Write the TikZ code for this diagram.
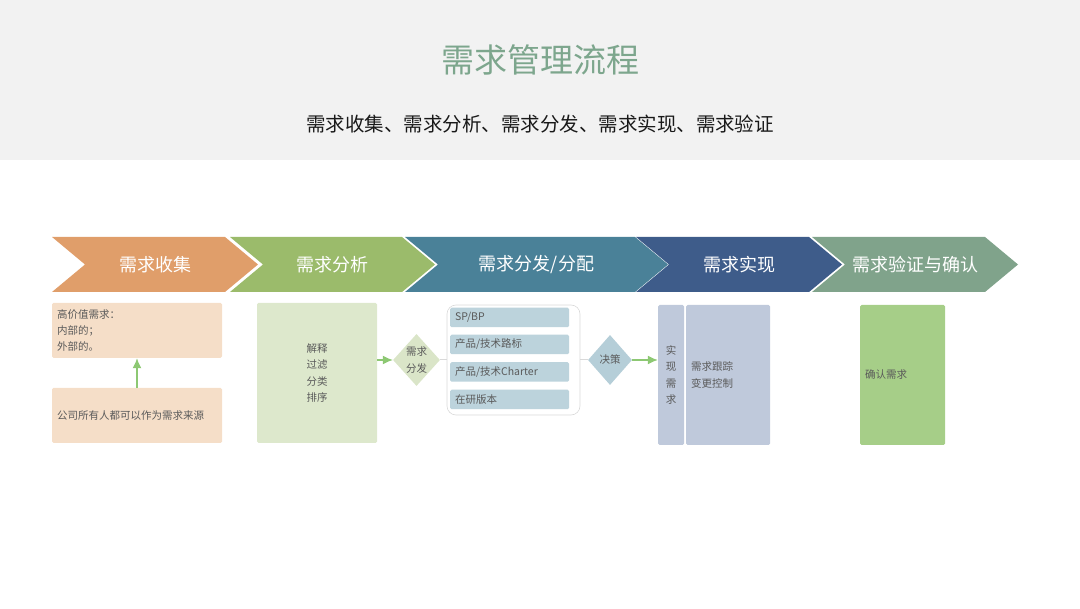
\documentclass[tikz,border=0pt]{standalone}
\usepackage{fontspec}
\setmainfont{Noto Sans CJK SC}
\usepackage{xcolor}
\usepackage{tikz}
\usetikzlibrary{arrows.meta,positioning,shapes.geometric}
\definecolor{headGray}{HTML}{F2F2F2}
\definecolor{titleGreen}{HTML}{7DA68D}
\definecolor{chevOrange}{HTML}{E09E6A}
\definecolor{chevGreen}{HTML}{9BBB6B}
\definecolor{chevTeal}{HTML}{4A8198}
\definecolor{chevBlue}{HTML}{3E5C8A}
\definecolor{chevSage}{HTML}{80A38B}
\definecolor{peach}{HTML}{F5DEC8}
\definecolor{paleGreen}{HTML}{DDE8CC}
\definecolor{paleGreenDia}{HTML}{DAE5C8}
\definecolor{listBlue}{HTML}{BCD3DC}
\definecolor{diaBlue}{HTML}{B5CED8}
\definecolor{slateBox}{HTML}{BFC9DB}
\definecolor{leafGreen}{HTML}{A6CE88}
\definecolor{arrowGreen}{HTML}{8DC873}
\definecolor{boxText}{HTML}{5A5A5A}

\begin{document}
\begin{tikzpicture}[
  x=1pt,
  y=-1pt,
  font=\fontsize{10.5}{16.3}\selectfont,
  title/.style={text=titleGreen,font=\fontsize{33}{36}\selectfont},
  subtitle/.style={text=black!90,font=\fontsize{19.5}{22}\selectfont},
  chevlabel/.style={text=white,font=\fontsize{18}{20}\selectfont},
  box/.style={
    rectangle,
    rounded corners=1.5pt,
    inner xsep=5pt,
    inner ysep=0pt,
    text=boxText,
    align=left
  },
  peachbox/.style={box,fill=peach,text width=160pt,minimum height=55pt},
  listbox/.style={box,fill=listBlue,text width=109pt,minimum height=19.5pt,inner xsep=5pt},
  slatebox/.style={box,fill=slateBox,minimum height=140pt},
  decision/.style={
    diamond,
    inner sep=0pt,
    minimum width=44pt,
    minimum height=52pt,
    text=boxText,
    align=center
  },
  groupbox/.style={
    rectangle,
    draw=black!15,
    line width=0.6pt,
    fill=white,
    rounded corners=9pt,
    minimum width=133pt,
    minimum height=110pt
  },
  garrow/.style={-{Latex[length=10pt,width=9pt]},draw=arrowGreen,line width=1.4pt},
  link/.style={draw=black!15,line width=1pt}
]
\useasboundingbox (0,0) rectangle (1080,609);

% Header band.
\fill[headGray] (0,0) rectangle (1080,160);
\node[title] (head) at (540,60) {需求管理流程};
\node[subtitle] (sub) at (540,124) {需求收集、需求分析、需求分发、需求实现、需求验证};

% Stage chevrons.
\foreach \xs/\w/\col/\lab/\nm in {52/206/chevOrange/需求收集/collect,
    230/205/chevGreen/需求分析/analyse,
    405/263/chevTeal/{需求分发/分配}/assign,
    636/206/chevBlue/需求实现/realise,
    812/206/chevSage/需求验证与确认/verify} {
  \fill[\col] (\xs,237) -- (\xs+\w-33,237) -- (\xs+\w,264.5) -- (\xs+\w-33,292)
    -- (\xs,292) -- (\xs+33,264.5) -- cycle;
  \node[chevlabel] (\nm) at (\xs+\w/2,264.5) {\lab};
}

% Collection stage.
\node[peachbox] (value) at (137,330.5) {高价值需求：\\内部的；\\外部的。};
\node[peachbox] (source) at (137,415.5) {公司所有人都可以作为需求来源};
\draw[garrow] (source.north) -- (value.south);

% Analysis stage.
\node[box,fill=paleGreen,minimum width=120pt,minimum height=140pt,align=center] (filter) at (317,373) {解释\\过滤\\分类\\排序};
\node[decision,fill=paleGreenDia] (dispatch) at (416.5,360) {需求\\分发};
\draw[garrow] (dispatch.west -| filter.east) -- (dispatch.west);

% Distribution stage.
\node[groupbox] (pool) at (513.5,360) {};
\node[listbox] (spbp) at (509.5,317.5) {SP/BP};
\node[listbox] (roadmap) at (509.5,344.5) {产品/技术路标};
\node[listbox] (charter) at (509.5,372) {产品/技术Charter};
\node[listbox] (wip) at (509.5,399.5) {在研版本};
\node[decision,fill=diaBlue,minimum height=50pt] (decide) at (610,360) {决策};
\draw[link] (dispatch.east) -- (pool.west);
\draw[link] (pool.east) -- (decide.west);

% Realisation stage.
\node[slatebox,minimum width=26pt,inner xsep=0pt,align=center] (build) at (671,375) {实\\现\\需\\求};
\node[slatebox,minimum width=84pt,text width=74pt] (track) at (728,375) {需求跟踪\\变更控制};
\draw[garrow] (decide.east) -- (decide.east -| build.west);

% Verification stage.
\node[box,fill=leafGreen,minimum height=140pt,text width=75pt] (confirm) at (902.5,375) {确认需求};

\end{tikzpicture}
\end{document}
